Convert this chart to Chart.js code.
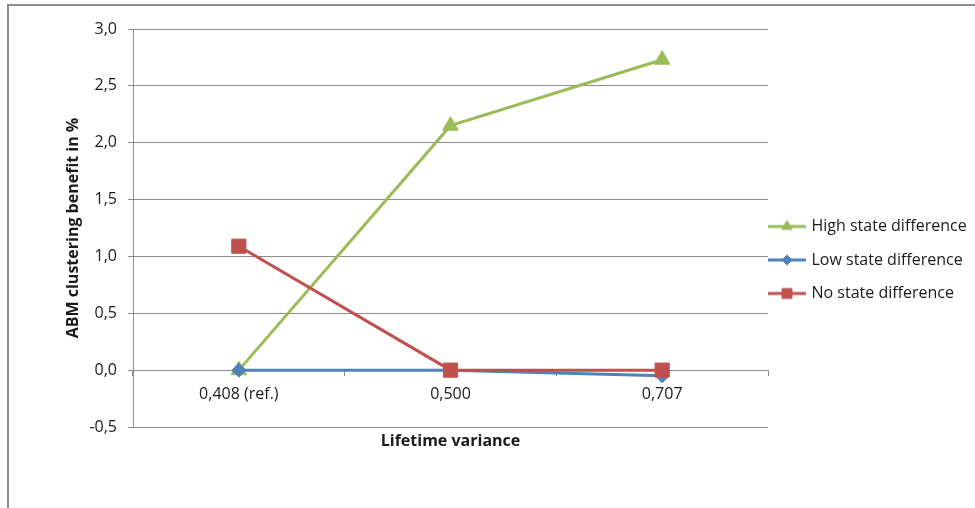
<!DOCTYPE html>
<html>
<head>
<meta charset="utf-8">
<script src="https://cdn.jsdelivr.net/npm/chart.js@4.4.0/dist/chart.umd.min.js"></script>
<style>
  html, body { margin: 0; padding: 0; background: #fff; }
  canvas { display: block; }
</style>
</head>
<body>
<canvas id="grafica" width="975" height="508"></canvas>
<script>
// Datos
const categorias = ["0,408 (ref.)", "0,500", "0,707"];
const highState = [0.0, 2.15, 2.73];
const lowState = [0.0, 0.0, -0.05];
const noState = [1.09, 0.0, 0.0];
const nombres = ["High state difference", "Low state difference", "No state difference"];
const tituloY = "ABM clustering benefit in %";
const tituloX = "Lifetime variance";

const verde = '#9BBB59';
const azul = '#4F81BD';
const rojo = '#C0504D';
const gris = '#8c8c8c';
const texto = '#1a1a1a';

Chart.defaults.font.family = '"Open Sans", Lato, sans-serif';
Chart.defaults.font.size = 16;
Chart.defaults.color = texto;

// icono de leyenda: linea + marcador
function icono(color, forma, radio) {
  let c = document.createElement('canvas');
  c.width = 38; c.height = 16;
  let g = c.getContext('2d');
  g.strokeStyle = color;
  g.lineWidth = 3;
  g.beginPath(); g.moveTo(0, 8); g.lineTo(38, 8); g.stroke();
  g.fillStyle = color;
  g.lineWidth = 1;
  Chart.helpers.drawPoint(g, { pointStyle: forma, radius: radio, rotation: 0, borderWidth: 1 }, 19, 8);
  return c;
}

// marco del area del grafico (estilo Excel)
const marco = {
  id: 'marco',
  beforeDraw(chart) {
    let ctx = chart.ctx;
    ctx.save();
    ctx.strokeStyle = gris;
    ctx.lineWidth = 2;
    ctx.beginPath();
    ctx.moveTo(8, chart.height);
    ctx.lineTo(8, 5);
    ctx.lineTo(chart.width, 5);
    ctx.stroke();
    ctx.restore();
  }
};

// pegar la leyenda al borde derecho del area
const ajusteLeyenda = {
  id: 'ajusteLeyenda',
  afterLayout(chart) {
    let l = chart.legend;
    l.left = chart.chartArea.right - 15;
    l.right = chart.width;
    l.width = l.right - l.left;
    l.top += 20; l.bottom += 20;
  }
};

let ctx = document.getElementById('grafica').getContext('2d');
let grafica = new Chart(ctx, {
  type: 'line',
  data: {
    labels: categorias,
    datasets: [
      {
        label: nombres[2],
        data: noState,
        borderColor: rojo,
        backgroundColor: rojo,
        borderWidth: 3,
        pointStyle: 'rect',
        pointRadius: 10,
        pointBorderWidth: 1,
        tension: 0,
        _icono: icono(rojo, 'rect', 7)
      },
      {
        label: nombres[1],
        data: lowState,
        borderColor: azul,
        backgroundColor: azul,
        borderWidth: 3,
        pointStyle: 'rectRot',
        pointRadius: 7,
        pointBorderWidth: 1,
        tension: 0,
        _icono: icono(azul, 'rectRot', 5)
      },
      {
        label: nombres[0],
        data: highState,
        borderColor: verde,
        backgroundColor: verde,
        borderWidth: 3,
        pointStyle: 'triangle',
        pointRadius: 9,
        pointBorderWidth: 1,
        tension: 0,
        _icono: icono(verde, 'triangle', 6)
      }
    ]
  },
  options: {
    responsive: false,
    animation: false,
    layout: { padding: { left: 64, top: 29, bottom: 57, right: 0 } },
    plugins: {
      tooltip: { enabled: false },
      legend: {
        position: 'right',
        reverse: true,
        maxWidth: 207,
        labels: {
          usePointStyle: true,
          pointStyleWidth: 33,
          padding: 17.5,
          color: texto,
          font: { size: 16 },
          generateLabels(chart) {
            return chart.data.datasets.map((ds, i) => ({
              text: ds.label,
              pointStyle: ds._icono,
              datasetIndex: i,
              hidden: false,
              lineWidth: 0,
              fillStyle: ds.borderColor,
              strokeStyle: ds.borderColor,
              fontColor: texto
            }));
          }
        }
      }
    },
    scales: {
      x: {
        type: 'category',
        position: { y: 0 },
        offset: true,
        grid: { drawOnChartArea: false, drawTicks: true, tickLength: 5, color: gris, offset: true },
        border: { display: true, color: gris, width: 1 },
        ticks: { padding: 10, color: texto, font: { size: 16 }, maxRotation: 0 }
      },
      x2: {
        type: 'category',
        position: 'bottom',
        grid: { display: false },
        border: { display: false },
        ticks: { display: false },
        title: { display: true, text: tituloX, color: texto, font: { size: 16, weight: 'bold' }, padding: 0 },
        afterFit: s => { s.height = 24; }
      },
      y: {
        min: -0.5,
        max: 3.0,
        grid: { color: gris, tickLength: 5 },
        border: { color: gris },
        ticks: {
          stepSize: 0.5,
          padding: 11,
          color: texto,
          font: { size: 16 },
          callback: v => v.toFixed(1).replace('.', ',')
        },
        title: { display: true, text: tituloY, color: texto, font: { size: 16, weight: 'bold' }, padding: 0 },
        afterFit: s => { s.width = 69; }
      }
    }
  },
  plugins: [marco, ajusteLeyenda]
});
</script>
</body>
</html>
